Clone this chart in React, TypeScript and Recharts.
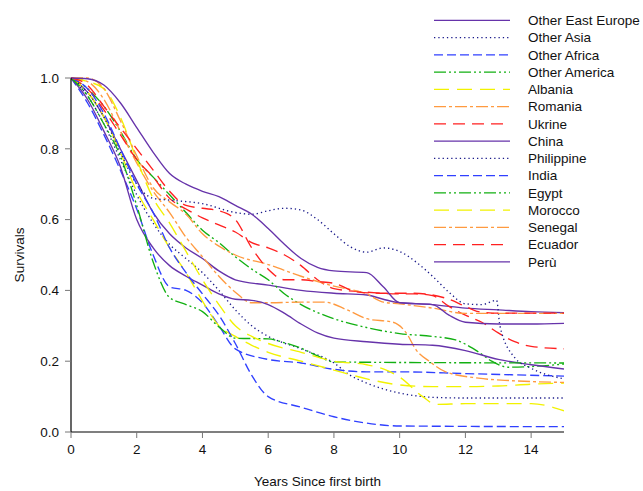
import { LineChart, Line, XAxis, YAxis, Legend } from "recharts";

// [years since first birth, survival]
const otherEastEurope = [
  [0, 1], [0.5, 0.96], [1, 0.89], [1.5, 0.8], [2, 0.71], [2.5, 0.62], [3, 0.56], [3.5, 0.52],
  [4, 0.49], [4.5, 0.455], [5, 0.43], [6, 0.415], [7, 0.4], [8, 0.392], [9, 0.387], [9.5, 0.375],
  [10, 0.365], [11, 0.36], [12, 0.35], [13, 0.345], [14, 0.34], [15, 0.337],
];
const otherAsia = [
  [0, 1], [0.5, 0.95], [1, 0.87], [1.5, 0.77], [2, 0.67], [2.5, 0.59], [3, 0.53], [3.5, 0.49],
  [4, 0.45], [4.5, 0.4], [5, 0.345], [5.5, 0.3], [6, 0.27], [7, 0.235], [8, 0.195], [8.5, 0.16],
  [9, 0.138], [10, 0.11], [11, 0.098], [12, 0.096], [15, 0.096],
];
const otherAfrica = [
  [0, 1], [0.5, 0.93], [1, 0.84], [1.5, 0.74], [2, 0.63], [2.5, 0.5], [3, 0.41], [3.5, 0.4],
  [4, 0.365], [4.5, 0.3], [5, 0.235], [6, 0.205], [7, 0.195], [8, 0.177], [9, 0.17], [10, 0.17],
  [12, 0.165], [15, 0.158],
];
const otherAmerica = [
  [0, 1], [0.5, 0.97], [1, 0.92], [1.5, 0.85], [2, 0.77], [2.5, 0.72], [3, 0.67], [3.5, 0.62],
  [4, 0.57], [4.5, 0.535], [5, 0.495], [5.5, 0.46], [6, 0.43], [6.5, 0.39], [7, 0.36], [8, 0.32],
  [9, 0.295], [10, 0.278], [11, 0.27], [11.7, 0.26], [12.4, 0.226], [12.8, 0.2], [13.3, 0.183],
  [14, 0.185], [15, 0.192],
];
const albania = [
  [0, 1], [0.5, 0.96], [1, 0.89], [1.5, 0.79], [2, 0.68], [2.5, 0.6], [3, 0.52], [3.5, 0.45],
  [4, 0.37], [4.5, 0.3], [5, 0.27], [5.5, 0.245], [6, 0.225], [7, 0.2], [8, 0.175], [9, 0.15],
  [10, 0.133], [11, 0.128], [12, 0.128], [13, 0.13], [14, 0.135], [15, 0.138],
];
const romania = [
  [0, 1], [0.5, 0.99], [1, 0.94], [1.5, 0.85], [2, 0.76], [2.5, 0.68], [3, 0.62], [3.5, 0.55],
  [4, 0.495], [4.5, 0.44], [5, 0.395], [5.5, 0.365], [6, 0.365], [7, 0.367], [7.7, 0.367],
  [8.4, 0.345], [9, 0.32], [9.8, 0.31], [10.2, 0.28], [10.5, 0.232], [10.9, 0.2], [11.4, 0.17],
  [12.4, 0.152], [13.4, 0.145], [15, 0.14],
];
const ukrine = [
  [0, 1], [0.5, 0.97], [1, 0.91], [1.5, 0.84], [2, 0.77], [2.5, 0.72], [3, 0.66], [3.5, 0.63],
  [4, 0.605], [4.5, 0.585], [5, 0.565], [5.5, 0.535], [6, 0.52], [6.5, 0.5], [7, 0.47], [7.5, 0.43],
  [8, 0.405], [9, 0.395], [10, 0.39], [10.5, 0.39], [11, 0.385], [11.5, 0.355], [12, 0.33],
  [12.5, 0.31], [13, 0.28], [13.5, 0.255], [14, 0.242], [15, 0.235],
];
const china = [
  [0, 1], [0.5, 0.94], [1, 0.85], [1.5, 0.75], [2, 0.6], [2.5, 0.52], [3, 0.47], [3.5, 0.44],
  [4, 0.415], [4.5, 0.39], [5, 0.375], [5.5, 0.372], [6, 0.36], [6.5, 0.335], [7, 0.305],
  [7.5, 0.28], [8, 0.265], [9, 0.255], [10, 0.248], [11, 0.245], [12, 0.23], [13, 0.205],
  [14, 0.19], [15, 0.178],
];
const philippine = [
  [0, 1], [0.5, 0.96], [1, 0.89], [1.5, 0.79], [2, 0.7], [2.5, 0.66], [3, 0.655], [4, 0.645],
  [5, 0.62], [5.5, 0.615], [6, 0.625], [6.5, 0.632], [7, 0.627], [7.5, 0.6], [8, 0.56],
  [8.5, 0.523], [9, 0.508], [9.5, 0.52], [10, 0.51], [10.5, 0.48], [11, 0.44], [11.5, 0.395],
  [12, 0.362], [12.5, 0.36], [12.95, 0.372], [13.05, 0.3], [13.5, 0.21], [14, 0.18], [15, 0.15],
];
const india = [
  [0, 1], [0.5, 0.97], [1, 0.9], [1.5, 0.8], [2, 0.7], [2.5, 0.62], [3, 0.52], [3.5, 0.45],
  [4, 0.39], [4.5, 0.33], [5, 0.25], [5.5, 0.16], [6, 0.1], [7, 0.07], [8, 0.043], [9, 0.025],
  [10, 0.017], [15, 0.015],
];
const egypt = [
  [0, 1], [0.5, 0.95], [1, 0.87], [1.5, 0.78], [2, 0.64], [2.5, 0.48], [3, 0.38], [3.5, 0.36],
  [4, 0.34], [4.5, 0.297], [5, 0.265], [6, 0.263], [6.5, 0.252], [7, 0.237], [7.5, 0.215],
  [8, 0.198], [9, 0.197], [15, 0.195],
];
const morocco = [
  [0, 1], [0.5, 0.99], [1, 0.97], [1.5, 0.89], [2, 0.77], [2.5, 0.66], [3, 0.59], [3.5, 0.51],
  [4, 0.43], [4.5, 0.36], [5, 0.3], [5.5, 0.27], [6, 0.25], [7, 0.225], [8, 0.2], [9, 0.19],
  [9.5, 0.178], [10, 0.155], [10.7, 0.1], [11.1, 0.078], [12, 0.08], [13, 0.08], [14, 0.08],
  [15, 0.06],
];
const senegal = [
  [0, 1], [0.5, 1], [1, 0.97], [1.5, 0.88], [2, 0.78], [2.5, 0.69], [3, 0.65], [3.5, 0.615],
  [4, 0.56], [4.5, 0.525], [5, 0.5], [6, 0.473], [7, 0.44], [8, 0.412], [9, 0.39], [9.5, 0.367],
  [10, 0.362], [11, 0.35], [12, 0.335], [15, 0.335],
];
const ecuador = [
  [0, 1], [0.5, 0.98], [1, 0.92], [1.5, 0.86], [2, 0.8], [2.5, 0.74], [3, 0.68], [3.5, 0.64],
  [4, 0.632], [4.5, 0.625], [5, 0.6], [5.5, 0.52], [6, 0.46], [6.5, 0.43], [7, 0.43], [7.5, 0.425],
  [8, 0.42], [8.7, 0.396], [9.4, 0.392], [10.4, 0.392], [11.4, 0.378], [12, 0.355], [12.4, 0.34],
  [13, 0.336], [15, 0.336],
];
const peru = [
  [0, 1], [0.5, 0.998], [1, 0.98], [1.5, 0.93], [2, 0.86], [2.5, 0.79], [3, 0.73], [3.5, 0.7],
  [4, 0.68], [4.5, 0.665], [5, 0.64], [5.5, 0.615], [6, 0.575], [6.5, 0.53], [7, 0.49],
  [7.5, 0.465], [8, 0.455], [9, 0.45], [9.5, 0.41], [10, 0.365], [11, 0.36], [11.5, 0.33],
  [12, 0.31], [13, 0.305], [14, 0.305], [15, 0.307],
];

const xTicks = [0, 2, 4, 6, 8, 10, 12, 14];
const yTicks = [0, 0.2, 0.4, 0.6, 0.8, 1.0];

const PURPLE = "#6633aa";
const NAVY = "#1a1a8a";
const BLUE = "#3040ff";
const GREEN = "#12b012";
const YELLOW = "#f2f200";
const ORANGE = "#ff9a40";
const RED = "#ff2020";

const DOT = "1.3 3";
const DASH = "9 4";
const DASH_DOT_DOT = "12 3 2 3 2 3";
const LONG_DASH = "15 8";
const DASH_DOT = "12 3 3 3";
const RED_DASH = "12 7";

const SERIES = [
  { name: "Other East Europe", pts: otherEastEurope, color: PURPLE, dash: undefined },
  { name: "Other Asia", pts: otherAsia, color: NAVY, dash: DOT },
  { name: "Other Africa", pts: otherAfrica, color: BLUE, dash: DASH },
  { name: "Other America", pts: otherAmerica, color: GREEN, dash: DASH_DOT_DOT },
  { name: "Albania", pts: albania, color: YELLOW, dash: LONG_DASH },
  { name: "Romania", pts: romania, color: ORANGE, dash: DASH_DOT },
  { name: "Ukrine", pts: ukrine, color: RED, dash: RED_DASH },
  { name: "China", pts: china, color: PURPLE, dash: undefined },
  { name: "Philippine", pts: philippine, color: NAVY, dash: DOT },
  { name: "India", pts: india, color: BLUE, dash: DASH },
  { name: "Egypt", pts: egypt, color: GREEN, dash: DASH_DOT_DOT },
  { name: "Morocco", pts: morocco, color: YELLOW, dash: LONG_DASH },
  { name: "Senegal", pts: senegal, color: ORANGE, dash: DASH_DOT },
  { name: "Ecuador", pts: ecuador, color: RED, dash: RED_DASH },
  { name: "Perù", pts: peru, color: PURPLE, dash: undefined },
];

const FONT = "'Liberation Sans', Arial, sans-serif";

function LegendBox() {
  const rowH = 17.26;
  return (
    <svg width={213} height={262} style={{ display: "block", overflow: "visible" }}>
      {SERIES.map((s, i) => {
        const y = 10.3 + i * rowH;
        return (
          <g key={s.name}>
            <line x1={4} x2={80} y1={y} y2={y} stroke={s.color} strokeWidth={1.3}
              strokeDasharray={s.dash} />
            <text x={98} y={y + 4.8} fontSize={13.5} fontFamily={FONT} fill="#111">
              {s.name}
            </text>
          </g>
        );
      })}
    </svg>
  );
}

export default function App() {
  return (
    <div style={{ position: "absolute", left: 0, top: 0, background: "#fff" }}>
      <LineChart width={643} height={491} margin={{ top: 78, right: 79, bottom: 9, left: 0 }}>
        <XAxis
          dataKey="t"
          type="number"
          domain={[0, 15]}
          ticks={xTicks}
          allowDataOverflow
          height={50}
          tickSize={6}
          tickMargin={6}
          axisLine={{ stroke: "#000", strokeWidth: 1.2 }}
          tickLine={{ stroke: "#777" }}
          tick={{ fill: "#111", fontSize: 13.5, fontFamily: FONT }}
          label={({ viewBox }: any) => (
            <text x={viewBox.x + viewBox.width / 2} y={viewBox.y + 54} textAnchor="middle"
              fontSize={13.5} fontFamily={FONT} fill="#111">
              Years Since first birth
            </text>
          )}
        />
        <YAxis
          type="number"
          domain={[0, 1]}
          ticks={yTicks}
          width={71}
          tickSize={6}
          tickMargin={6}
          tickFormatter={(v: number) => v.toFixed(1)}
          axisLine={{ stroke: "#000", strokeWidth: 1.2 }}
          tickLine={{ stroke: "#777" }}
          tick={{ fill: "#111", fontSize: 13.5, fontFamily: FONT }}
          label={({ viewBox }: any) => {
            const cx = viewBox.x + 19;
            const cy = viewBox.y + viewBox.height / 2;
            return (
              <text x={cx} y={cy} transform={`rotate(-90 ${cx} ${cy})`} textAnchor="middle"
                dominantBaseline="central" fontSize={13.5} fontFamily={FONT} fill="#111">
                Survivals
              </text>
            );
          }}
        />
        <Legend
          layout="vertical"
          align="center"
          verticalAlign="middle"
          wrapperStyle={{ left: 430, top: 10, width: 213 }}
          content={() => <LegendBox />}
        />
        {SERIES.map((s) => (
          <Line
            key={s.name}
            name={s.name}
            data={s.pts.map(([t, v]) => ({ t, v }))}
            dataKey="v"
            type="monotone"
            stroke={s.color}
            strokeWidth={1.35}
            strokeDasharray={s.dash}
            dot={false}
            activeDot={false}
            isAnimationActive={false}
          />
        ))}
      </LineChart>
    </div>
  );
}
